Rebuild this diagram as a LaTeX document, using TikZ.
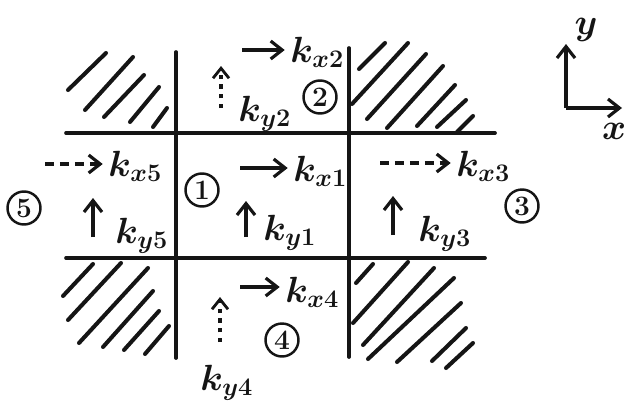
\documentclass[tikz,border=0pt]{standalone}
\usepackage{tikz}
\usetikzlibrary{arrows.meta,positioning}
\definecolor{sketchInk}{HTML}{151515}
\tikzset{
  every picture/.style={text=sketchInk},
  sketch grid/.style={draw=sketchInk, line width=2.1pt, line cap=round},
  sketch hatch/.style={draw=sketchInk, line width=2.3pt, line cap=round},
  sketch solid/.style={-{Straight Barb[length=2.3mm,width=3.6mm,line width=1.8pt]},
    draw=sketchInk, line width=1.9pt, shorten >=3pt},
  sketch dashed/.style={sketch solid, dash pattern=on 5pt off 3.5pt},
  sketch dotted/.style={-{Straight Barb[length=2mm,width=3.2mm,line width=1.6pt]},
    draw=sketchInk, line width=2pt, dash pattern=on 2.5pt off 3pt},
  wave label/.style={font=\fontsize{22}{26}\selectfont\boldmath, anchor=base west, inner sep=0pt},
  axis label/.style={font=\fontsize{22}{26}\selectfont\boldmath, inner sep=0pt},
  region mark/.style={draw=sketchInk, circle, line width=1.4pt, minimum size=6.6mm,
    inner sep=0pt, font=\fontsize{16}{19}\selectfont\bfseries}
}
\begin{document}
\begin{tikzpicture}[x=0.02cm,y=-0.02cm]
  \useasboundingbox (0,0) rectangle (628,406);
  % the cross of interfaces
  \draw[sketch grid] (176,52) -- (176,358);
  \draw[sketch grid] (349,48) -- (349,357);
  \draw[sketch grid] (66,133) -- (495,133);
  \draw[sketch grid] (66,258) -- (485,258);
  % hatched corners
  \foreach \xa/\ya/\xb/\yb in {68/90/106/53, 85/110/133/57, 104/117/144/75,
      130/122/159/87, 153/127/167/108,
      359/69/385/43, 352/104/408/43, 367/119/426/54, 387/128/443/66,
      417/126/455/85, 437/127/466/100, 457/132/473/116,
      63/296/93/264, 68/320/121/263, 79/343/148/268, 103/347/153/291,
      124/350/159/311, 145/354/169/326,
      356/283/373/264, 353/323/408/262, 363/345/434/268, 368/359/454/278,
      397/362/461/303, 432/361/466/328, 446/368/473/343}
    \draw[sketch hatch] (\xa,\ya) -- (\xb,\yb);
  % region numbers
  \node[region mark] (r1) at (202,190) {1};
  \node[region mark] (r2) at (320,97) {2};
  \node[region mark] (r3) at (522,206) {3};
  \node[region mark] (r4) at (282,340) {4};
  \node[region mark] (r5) at (24,208) {5};
  % wave vector labels
  \node[wave label] (kx1) at (293,181) {$k_{x1}$};
  \node[wave label] (ky1) at (263,240) {$k_{y1}$};
  \node[wave label] (kx2) at (290,62) {$k_{x2}$};
  \node[wave label] (ky2) at (238,121) {$k_{y2}$};
  \node[wave label] (kx3) at (456,176) {$k_{x3}$};
  \node[wave label] (ky3) at (418,241) {$k_{y3}$};
  \node[wave label] (kx4) at (285,302) {$k_{x4}$};
  \node[wave label] (ky4) at (200,390) {$k_{y4}$};
  \node[wave label] (kx5) at (108,176) {$k_{x5}$};
  \node[wave label] (ky5) at (115,243) {$k_{y5}$};
  % arrows
  \coordinate (kx1tail) at (240,168);
  \coordinate (kx2tail) at (242,50);
  \coordinate (kx3tail) at (380,163);
  \coordinate (kx4tail) at (240,287);
  \coordinate (kx5tail) at (45,164);
  \draw[sketch solid] (kx1tail) -- (kx1tail -| kx1.west);
  \draw[sketch solid] (kx2tail) -- (kx2tail -| kx2.west);
  \draw[sketch dashed] (kx3tail) -- (kx3tail -| kx3.west);
  \draw[sketch solid] (kx4tail) -- (kx4tail -| kx4.west);
  \draw[sketch dashed] (kx5tail) -- (kx5tail -| kx5.west);
  \coordinate (ky1foot) at (246,237);
  \coordinate (ky1head) at (246,201);
  \coordinate (ky2foot) at (221,108);
  \coordinate (ky2head) at (221,66);
  \coordinate (ky3foot) at (393,235);
  \coordinate (ky3head) at (393,196);
  \coordinate (ky4foot) at (220,342);
  \coordinate (ky4head) at (220,297);
  \coordinate (ky5foot) at (93,237);
  \coordinate (ky5head) at (93,198);
  \draw[sketch solid, shorten >=0pt] (ky1foot) -- (ky1head);
  \draw[sketch dotted] (ky2foot) -- (ky2head);
  \draw[sketch solid, shorten >=0pt] (ky3foot) -- (ky3head);
  \draw[sketch dotted] (ky4foot) -- (ky4head);
  \draw[sketch solid, shorten >=0pt] (ky5foot) -- (ky5head);
  % axes
  \coordinate (origin) at (566,108);
  \coordinate (yend) at (566,44);
  \coordinate (xend) at (622,108);
  \node[axis label] (ylab) at (586,30) {$y$};
  \node[axis label] (xlab) at (614,131) {$x$};
  \draw[sketch solid, shorten >=0pt] (origin) -- (yend);
  \draw[sketch solid, shorten >=0pt] (origin) -- (xend);
\end{tikzpicture}
\end{document}
